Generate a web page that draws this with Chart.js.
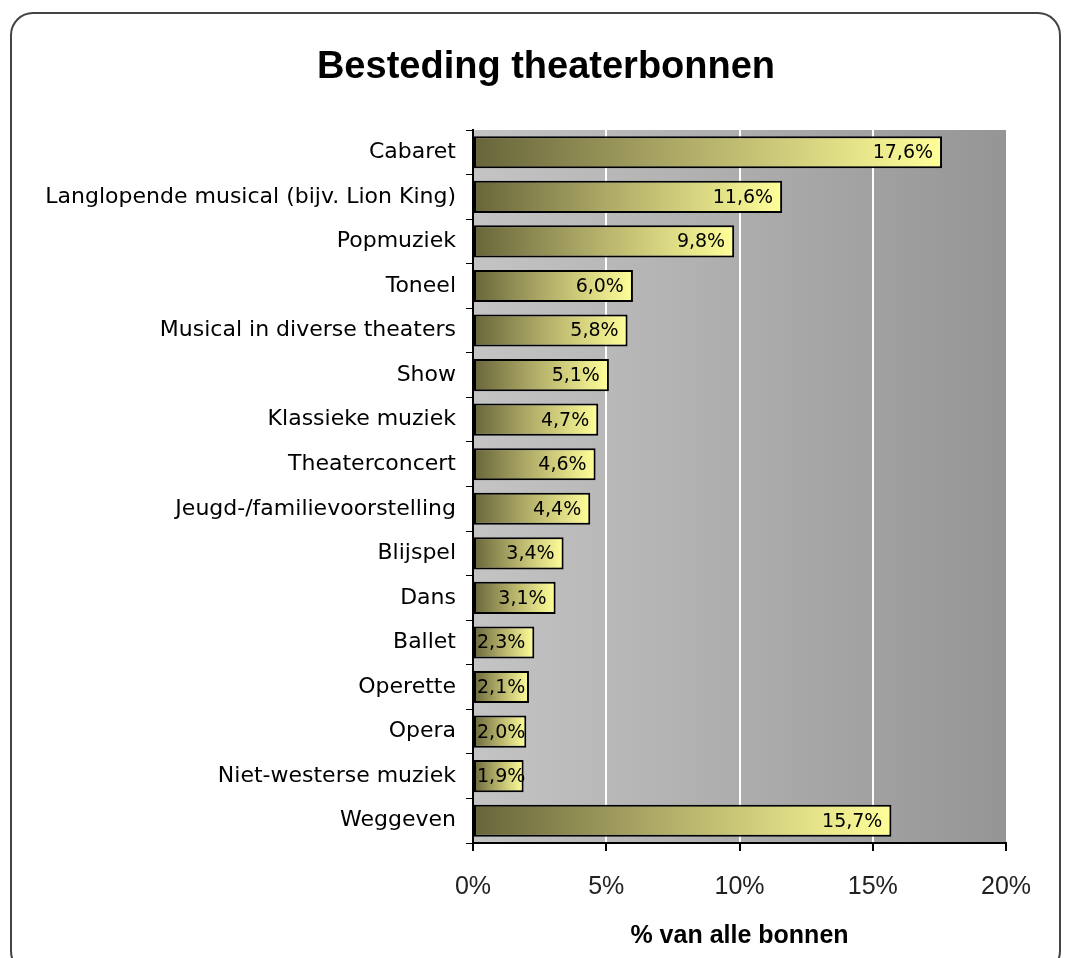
<!DOCTYPE html>
<html>
<head>
<meta charset="utf-8">
<script src="https://cdn.jsdelivr.net/npm/chart.js@4.4.1/dist/chart.umd.min.js"></script>
<style>
  body { margin: 0; background: #fff; }
  #wrap { width: 1073px; height: 958px; position: relative; }
</style>
</head>
<body>
<div id="wrap"><canvas id="grafiek" width="1073" height="958"></canvas></div>
<script>
const titel = 'Besteding theaterbonnen';
const categorieen = [
  'Cabaret',
  'Langlopende musical (bijv. Lion King)',
  'Popmuziek',
  'Toneel',
  'Musical in diverse theaters',
  'Show',
  'Klassieke muziek',
  'Theaterconcert',
  'Jeugd-/familievoorstelling',
  'Blijspel',
  'Dans',
  'Ballet',
  'Operette',
  'Opera',
  'Niet-westerse muziek',
  'Weggeven'
];
const percentages = [17.6, 11.6, 9.8, 6.0, 5.8, 5.1, 4.7, 4.6, 4.4, 3.4, 3.1, 2.3, 2.1, 2.0, 1.9, 15.7];
const xTicks = [0, 5, 10, 15, 20];

// afgeronde rand, titel en grijze achtergrond van het plotvlak
const achtergrond = {
  id: 'achtergrond',
  beforeDraw(chart) {
    const ctx = chart.ctx;
    const a = chart.chartArea;
    ctx.save();
    ctx.strokeStyle = '#444';
    ctx.lineWidth = 2;
    ctx.beginPath();
    ctx.roundRect(11, 13, 1049, 960, 22);
    ctx.stroke();

    ctx.font = 'bold 38px "Liberation Sans", Arial, sans-serif';
    ctx.fillStyle = '#000';
    ctx.textAlign = 'center';
    ctx.textBaseline = 'middle';
    ctx.fillText(titel, 546, 68);

    const g = ctx.createLinearGradient(a.left, 0, a.right, 0);
    g.addColorStop(0, '#c4c4c4');
    g.addColorStop(0.5, '#adadad');
    g.addColorStop(1, '#959595');
    ctx.fillStyle = g;
    ctx.fillRect(a.left, a.top, a.right - a.left, a.bottom - a.top);
    ctx.restore();
  }
};

// waardelabels rechts in de balk
const labels = {
  id: 'labels',
  afterDatasetsDraw(chart) {
    const ctx = chart.ctx;
    const meta = chart.getDatasetMeta(0);
    const links = chart.chartArea.left;
    ctx.save();
    ctx.font = '19px "DejaVu Sans", sans-serif';
    ctx.fillStyle = '#000';
    ctx.textAlign = 'right';
    ctx.textBaseline = 'middle';
    meta.data.forEach((bar, i) => {
      const txt = percentages[i].toFixed(1).replace('.', ',') + '%';
      const w = ctx.measureText(txt).width;
      const x = Math.max(bar.x - 9, links + 4 + w);
      ctx.fillText(txt, x, bar.y + 1);
    });
    ctx.restore();
  }
};

function balkKleur(c) {
  const chart = c.chart;
  if (!chart.chartArea || !chart.scales.x) return '#b8b46a';
  const x0 = chart.scales.x.getPixelForValue(0);
  const x1 = chart.scales.x.getPixelForValue(percentages[c.dataIndex]);
  const g = chart.ctx.createLinearGradient(x0, 0, x1, 0);
  g.addColorStop(0, '#67643a');
  g.addColorStop(0.45, '#b0ac68');
  g.addColorStop(1, '#ffff99');
  return g;
}

new Chart(document.getElementById('grafiek'), {
  type: 'bar',
  data: {
    labels: categorieen,
    datasets: [{
      data: percentages,
      backgroundColor: balkKleur,
      borderColor: '#000',
      borderWidth: 2,
      borderSkipped: false,
      categoryPercentage: 0.72,
      barPercentage: 1
    }]
  },
  plugins: [achtergrond, labels],
  options: {
    indexAxis: 'y',
    responsive: false,
    animation: false,
    layout: { padding: { left: 0, right: 67, top: 130, bottom: 0 } },
    plugins: {
      legend: { display: false },
      tooltip: { enabled: false },
      title: { display: false }
    },
    scales: {
      x: {
        min: 0,
        max: 20,
        afterBuildTicks(scale) { scale.ticks = xTicks.map(v => ({ value: v })); },
        afterFit(scale) { scale.height = 115; },
        border: { display: true, color: '#000', width: 2 },
        grid: {
          color: c => (c.tick && c.tick.value > 0 && c.tick.value < 20) ? '#ffffff' : 'rgba(0,0,0,0)',
          lineWidth: 2,
          tickColor: '#000',
          tickLength: 8,
          drawTicks: true
        },
        ticks: {
          color: '#222',
          padding: 21,
          font: { family: '"Liberation Sans", Arial, sans-serif', size: 25 },
          callback: v => v + '%'
        },
        title: {
          display: true,
          text: '% van alle bonnen',
          color: '#000',
          font: { family: '"Liberation Sans", Arial, sans-serif', size: 25, weight: 'bold' },
          padding: { top: 0, bottom: 7 }
        }
      },
      y: {
        afterFit(scale) { scale.width = 473; },
        border: { display: true, color: '#000', width: 2 },
        grid: {
          offset: true,
          drawOnChartArea: false,
          tickColor: '#000',
          tickLength: 7
        },
        ticks: {
          color: '#000',
          padding: 10,
          autoSkip: false,
          font: { family: '"DejaVu Sans", sans-serif', size: 22 }
        }
      }
    }
  }
});
</script>
</body>
</html>
